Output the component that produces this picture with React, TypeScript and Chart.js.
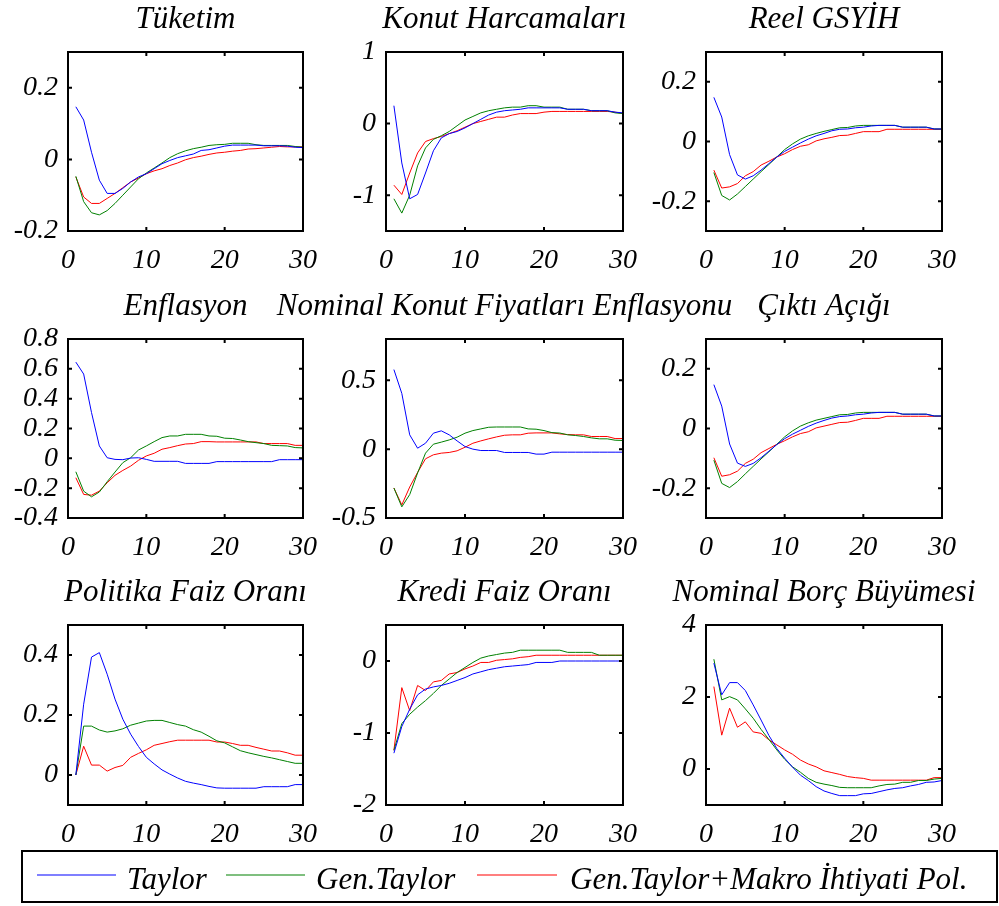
import React, { useEffect, useRef } from 'react';
import { Chart, registerables } from 'chart.js';

Chart.register(...registerables);

// Impulse-response periods
const PERIODS = [1, 2, 3, 4, 5, 6, 7, 8, 9, 10, 11, 12, 13, 14, 15, 16, 17, 18, 19, 20, 21, 22, 23, 24, 25, 26, 27, 28, 29, 30];
const X_TICKS = [0, 10, 20, 30];

const SERIES_NAMES = ['Taylor', 'Gen.Taylor', 'Gen.Taylor+Makro İhtiyati Pol.'];
const SERIES_COLORS = ['#0000ff', '#008000', '#ff0000'];

// Tüketim
const TUKETIM_TAYLOR = [0.147, 0.11, 0.02, -0.058, -0.095, -0.095, -0.081, -0.063, -0.049, -0.04, -0.026, -0.012, -0.003, 0.005, 0.01, 0.015, 0.025, 0.027, 0.032, 0.037, 0.04, 0.04, 0.04, 0.04, 0.038, 0.038, 0.038, 0.037, 0.034, 0.033];
const TUKETIM_GEN = [-0.047, -0.118, -0.149, -0.155, -0.143, -0.123, -0.1, -0.077, -0.054, -0.038, -0.024, -0.01, 0.005, 0.016, 0.024, 0.03, 0.034, 0.039, 0.041, 0.042, 0.045, 0.045, 0.045, 0.041, 0.039, 0.039, 0.039, 0.039, 0.036, 0.034];
const TUKETIM_MAKRO = [-0.049, -0.105, -0.123, -0.123, -0.109, -0.095, -0.079, -0.063, -0.052, -0.04, -0.032, -0.026, -0.017, -0.01, -0.001, 0.005, 0.009, 0.014, 0.018, 0.02, 0.023, 0.025, 0.029, 0.03, 0.032, 0.034, 0.036, 0.035, 0.035, 0.035];
const TUKETIM_YTICKS = [-0.2, 0, 0.2];

// Konut Harcamaları
const KONUT_TAYLOR = [0.25, -0.55, -1.05, -0.99, -0.69, -0.38, -0.2, -0.14, -0.11, -0.06, 0.0, 0.06, 0.12, 0.16, 0.18, 0.19, 0.2, 0.22, 0.22, 0.22, 0.22, 0.22, 0.2, 0.2, 0.2, 0.18, 0.18, 0.18, 0.16, 0.15];
const KONUT_GEN = [-1.05, -1.25, -1.0, -0.59, -0.34, -0.22, -0.17, -0.11, -0.03, 0.05, 0.1, 0.15, 0.18, 0.2, 0.22, 0.23, 0.23, 0.25, 0.25, 0.23, 0.23, 0.23, 0.2, 0.2, 0.2, 0.18, 0.18, 0.18, 0.15, 0.14];
const KONUT_MAKRO = [-0.86, -0.99, -0.69, -0.41, -0.25, -0.21, -0.18, -0.14, -0.1, -0.05, 0.0, 0.03, 0.06, 0.09, 0.09, 0.12, 0.14, 0.14, 0.14, 0.16, 0.17, 0.17, 0.17, 0.17, 0.17, 0.17, 0.17, 0.17, 0.16, 0.14];
const KONUT_YTICKS = [-1, 0, 1];

// Reel GSYİH
const REEL_TAYLOR = [0.148, 0.082, -0.044, -0.112, -0.126, -0.115, -0.096, -0.074, -0.052, -0.033, -0.019, -0.005, 0.008, 0.019, 0.027, 0.036, 0.041, 0.042, 0.046, 0.048, 0.052, 0.054, 0.054, 0.054, 0.048, 0.048, 0.048, 0.048, 0.042, 0.042];
const REEL_GEN = [-0.104, -0.181, -0.196, -0.176, -0.151, -0.126, -0.101, -0.077, -0.052, -0.027, -0.008, 0.008, 0.019, 0.027, 0.034, 0.04, 0.046, 0.047, 0.052, 0.054, 0.054, 0.054, 0.054, 0.054, 0.048, 0.048, 0.048, 0.048, 0.042, 0.042];
const REEL_MAKRO = [-0.096, -0.156, -0.152, -0.141, -0.115, -0.101, -0.079, -0.066, -0.052, -0.041, -0.027, -0.016, -0.011, 0.002, 0.009, 0.014, 0.02, 0.021, 0.027, 0.033, 0.033, 0.033, 0.041, 0.041, 0.041, 0.041, 0.041, 0.041, 0.041, 0.041];
const REEL_YTICKS = [-0.2, 0, 0.2];

// Enflasyon
const ENF_TAYLOR = [0.645, 0.565, 0.307, 0.083, 0.004, -0.007, -0.009, 0.002, 0.004, -0.007, -0.02, -0.02, -0.02, -0.02, -0.034, -0.034, -0.034, -0.034, -0.022, -0.022, -0.022, -0.022, -0.022, -0.022, -0.022, -0.022, -0.009, -0.009, -0.009, -0.009];
const ENF_GEN = [-0.09, -0.22, -0.258, -0.226, -0.157, -0.092, -0.029, 0.004, 0.056, 0.083, 0.112, 0.139, 0.15, 0.15, 0.161, 0.161, 0.161, 0.15, 0.148, 0.135, 0.133, 0.123, 0.112, 0.105, 0.099, 0.087, 0.085, 0.083, 0.072, 0.07];
const ENF_MAKRO = [-0.13, -0.242, -0.247, -0.22, -0.164, -0.114, -0.081, -0.052, -0.013, 0.016, 0.034, 0.061, 0.072, 0.085, 0.096, 0.099, 0.112, 0.112, 0.11, 0.11, 0.11, 0.11, 0.11, 0.11, 0.099, 0.099, 0.099, 0.099, 0.087, 0.087];
const ENF_YTICKS = [-0.4, -0.2, 0, 0.2, 0.4, 0.6, 0.8];

// Nominal Konut Fiyatları Enflasyonu
const NKF_TAYLOR = [0.578, 0.405, 0.104, 0.007, 0.043, 0.116, 0.133, 0.104, 0.06, 0.019, 0.0, -0.01, -0.01, -0.01, -0.024, -0.024, -0.024, -0.024, -0.036, -0.036, -0.022, -0.022, -0.022, -0.022, -0.022, -0.022, -0.022, -0.022, -0.022, -0.022];
const NKF_GEN = [-0.282, -0.419, -0.33, -0.173, -0.029, 0.036, 0.051, 0.067, 0.087, 0.116, 0.135, 0.147, 0.159, 0.161, 0.161, 0.161, 0.161, 0.147, 0.145, 0.135, 0.12, 0.117, 0.104, 0.099, 0.092, 0.082, 0.075, 0.075, 0.065, 0.063];
const NKF_MAKRO = [-0.282, -0.405, -0.275, -0.169, -0.07, -0.041, -0.029, -0.024, -0.012, 0.014, 0.043, 0.06, 0.075, 0.089, 0.101, 0.104, 0.104, 0.116, 0.118, 0.118, 0.118, 0.111, 0.106, 0.104, 0.104, 0.092, 0.092, 0.092, 0.077, 0.077];
const NKF_YTICKS = [-0.5, 0, 0.5];

// Çıktı Açığı
const CIKTI_TAYLOR = [0.147, 0.075, -0.052, -0.116, -0.127, -0.117, -0.098, -0.076, -0.054, -0.034, -0.019, -0.006, 0.007, 0.018, 0.027, 0.035, 0.04, 0.042, 0.046, 0.048, 0.052, 0.054, 0.054, 0.054, 0.048, 0.048, 0.048, 0.048, 0.042, 0.042];
const CIKTI_GEN = [-0.106, -0.184, -0.198, -0.178, -0.152, -0.127, -0.102, -0.078, -0.053, -0.028, -0.008, 0.008, 0.019, 0.028, 0.034, 0.04, 0.046, 0.047, 0.052, 0.054, 0.054, 0.054, 0.054, 0.054, 0.048, 0.048, 0.048, 0.048, 0.042, 0.042];
const CIKTI_MAKRO = [-0.098, -0.16, -0.155, -0.143, -0.117, -0.103, -0.081, -0.067, -0.053, -0.041, -0.028, -0.017, -0.011, 0.002, 0.008, 0.014, 0.02, 0.021, 0.027, 0.034, 0.034, 0.034, 0.041, 0.041, 0.041, 0.041, 0.041, 0.041, 0.041, 0.041];
const CIKTI_YTICKS = [-0.2, 0, 0.2];

// Politika Faiz Oranı
const POL_TAYLOR = [0.0, 0.236, 0.393, 0.408, 0.336, 0.253, 0.186, 0.136, 0.095, 0.059, 0.037, 0.017, 0.003, -0.01, -0.021, -0.027, -0.032, -0.038, -0.043, -0.044, -0.044, -0.044, -0.044, -0.044, -0.039, -0.039, -0.039, -0.039, -0.032, -0.032];
const POL_GEN = [0.0, 0.163, 0.163, 0.15, 0.143, 0.147, 0.154, 0.166, 0.173, 0.18, 0.182, 0.182, 0.175, 0.168, 0.163, 0.151, 0.143, 0.129, 0.114, 0.107, 0.094, 0.081, 0.074, 0.068, 0.062, 0.057, 0.051, 0.045, 0.039, 0.039];
const POL_MAKRO = [0.0, 0.096, 0.033, 0.033, 0.013, 0.025, 0.032, 0.059, 0.072, 0.084, 0.099, 0.105, 0.111, 0.116, 0.116, 0.116, 0.116, 0.116, 0.11, 0.11, 0.105, 0.099, 0.099, 0.092, 0.086, 0.08, 0.08, 0.074, 0.066, 0.066];
const POL_YTICKS = [0, 0.2, 0.4];

// Kredi Faiz Oranı
const KREDI_TAYLOR = [-1.28, -0.91, -0.67, -0.47, -0.39, -0.36, -0.34, -0.31, -0.27, -0.23, -0.18, -0.15, -0.12, -0.1, -0.08, -0.07, -0.06, -0.05, -0.02, -0.02, -0.02, 0.0, 0.0, 0.0, 0.0, 0.0, 0.0, 0.0, 0.0, 0.0];
const KREDI_GEN = [-1.24, -0.87, -0.74, -0.64, -0.55, -0.45, -0.34, -0.25, -0.16, -0.09, -0.02, 0.04, 0.07, 0.09, 0.11, 0.12, 0.15, 0.15, 0.15, 0.15, 0.15, 0.15, 0.12, 0.12, 0.12, 0.12, 0.08, 0.08, 0.08, 0.08];
const KREDI_MAKRO = [-1.24, -0.37, -0.69, -0.34, -0.41, -0.29, -0.27, -0.18, -0.16, -0.11, -0.07, -0.02, -0.02, 0.01, 0.02, 0.03, 0.05, 0.06, 0.08, 0.08, 0.08, 0.08, 0.08, 0.08, 0.08, 0.08, 0.08, 0.08, 0.08, 0.08];
const KREDI_YTICKS = [-2, -1, 0];

// Nominal Borç Büyümesi
const BORC_TAYLOR = [2.94, 2.06, 2.4, 2.4, 2.18, 1.78, 1.36, 0.93, 0.57, 0.3, 0.05, -0.17, -0.32, -0.49, -0.61, -0.68, -0.74, -0.74, -0.74, -0.69, -0.68, -0.63, -0.58, -0.54, -0.52, -0.47, -0.43, -0.37, -0.36, -0.32];
const BORC_GEN = [3.05, 1.92, 2.01, 1.92, 1.67, 1.41, 1.1, 0.82, 0.53, 0.27, 0.06, -0.09, -0.26, -0.37, -0.42, -0.46, -0.51, -0.52, -0.52, -0.52, -0.52, -0.47, -0.43, -0.42, -0.37, -0.37, -0.32, -0.32, -0.28, -0.26];
const BORC_MAKRO = [2.29, 0.94, 1.69, 1.16, 1.31, 1.03, 0.99, 0.81, 0.67, 0.53, 0.41, 0.25, 0.14, 0.06, -0.05, -0.1, -0.15, -0.21, -0.24, -0.26, -0.31, -0.31, -0.31, -0.31, -0.31, -0.31, -0.31, -0.31, -0.24, -0.24];
const BORC_YTICKS = [0, 2, 4];

// Page and panel geometry (pixels)
const PAGE_W = 999;
const PAGE_H = 906;
const COLS = [[68, 303], [386, 623], [706, 942]];
const ROWS = [[52, 231], [339, 518], [625, 805]];
const Y_AXIS_W = 60;
const X_AXIS_H = 45;

const SERIF = "'Liberation Serif', 'Times New Roman', Times, serif";
const TICK_FONT = { family: SERIF, size: 28, style: 'italic' as const, lineHeight: 1.2 };
const TITLE_SIZE = 31;
const LEGEND_SIZE = 31;

type Panel = {
  title: string;
  series: number[][];
  yMin: number;
  yMax: number;
  yTicks: number[];
  col: number;
  row: number;
};

const PANELS: Panel[] = [
  { title: 'Tüketim', series: [TUKETIM_TAYLOR, TUKETIM_GEN, TUKETIM_MAKRO], yMin: -0.2, yMax: 0.3, yTicks: TUKETIM_YTICKS, col: 0, row: 0 },
  { title: 'Konut Harcamaları', series: [KONUT_TAYLOR, KONUT_GEN, KONUT_MAKRO], yMin: -1.5, yMax: 1, yTicks: KONUT_YTICKS, col: 1, row: 0 },
  { title: 'Reel GSYİH', series: [REEL_TAYLOR, REEL_GEN, REEL_MAKRO], yMin: -0.3, yMax: 0.3, yTicks: REEL_YTICKS, col: 2, row: 0 },
  { title: 'Enflasyon', series: [ENF_TAYLOR, ENF_GEN, ENF_MAKRO], yMin: -0.4, yMax: 0.8, yTicks: ENF_YTICKS, col: 0, row: 1 },
  { title: 'Nominal Konut Fiyatları Enflasyonu', series: [NKF_TAYLOR, NKF_GEN, NKF_MAKRO], yMin: -0.5, yMax: 0.8, yTicks: NKF_YTICKS, col: 1, row: 1 },
  { title: 'Çıktı Açığı', series: [CIKTI_TAYLOR, CIKTI_GEN, CIKTI_MAKRO], yMin: -0.3, yMax: 0.3, yTicks: CIKTI_YTICKS, col: 2, row: 1 },
  { title: 'Politika Faiz Oranı', series: [POL_TAYLOR, POL_GEN, POL_MAKRO], yMin: -0.1, yMax: 0.5, yTicks: POL_YTICKS, col: 0, row: 2 },
  { title: 'Kredi Faiz Oranı', series: [KREDI_TAYLOR, KREDI_GEN, KREDI_MAKRO], yMin: -2, yMax: 0.5, yTicks: KREDI_YTICKS, col: 1, row: 2 },
  { title: 'Nominal Borç Büyümesi', series: [BORC_TAYLOR, BORC_GEN, BORC_MAKRO], yMin: -1, yMax: 4, yTicks: BORC_YTICKS, col: 2, row: 2 },
];

// Boxed axes with inward tick marks on all four sides
const framePlugin = {
  id: 'frameTicks',
  afterDatasetsDraw(chart: any) {
    const { ctx, chartArea: a, scales } = chart;
    ctx.save();
    ctx.strokeStyle = '#000';
    ctx.lineWidth = 2;
    ctx.strokeRect(a.left, a.top, a.right - a.left, a.bottom - a.top);
    const len = 4;
    ctx.beginPath();
    scales.x.ticks.forEach((t: any) => {
      const px = scales.x.getPixelForValue(t.value);
      ctx.moveTo(px, a.bottom);
      ctx.lineTo(px, a.bottom - len);
      ctx.moveTo(px, a.top);
      ctx.lineTo(px, a.top + len);
    });
    scales.y.ticks.forEach((t: any) => {
      const py = scales.y.getPixelForValue(t.value);
      ctx.moveTo(a.left, py);
      ctx.lineTo(a.left + len, py);
      ctx.moveTo(a.right, py);
      ctx.lineTo(a.right - len, py);
    });
    ctx.stroke();
    ctx.restore();
  },
};

// Panel heading centred over the plot box
const panelTitlePlugin = {
  id: 'panelTitle',
  afterDraw(chart: any, _args: any, opts: any) {
    if (!opts || !opts.text) return;
    const { ctx, chartArea: a } = chart;
    ctx.save();
    ctx.font = `italic ${TITLE_SIZE}px ${SERIF}`;
    ctx.fillStyle = '#000';
    ctx.textAlign = 'center';
    ctx.textBaseline = 'alphabetic';
    ctx.fillText(opts.text, (a.left + a.right) / 2, a.top - 24);
    ctx.restore();
  },
};

// Shared legend box along the bottom of the figure
const legendBoxPlugin = {
  id: 'legendBox',
  afterDraw(chart: any, _args: any, opts: any) {
    if (!opts || !opts.show) return;
    const { ctx } = chart;
    const box = { left: 22, top: 851, right: 997, bottom: 902 };
    ctx.save();
    ctx.fillStyle = '#fff';
    ctx.fillRect(box.left, box.top, box.right - box.left, box.bottom - box.top);
    ctx.strokeStyle = '#000';
    ctx.lineWidth = 2;
    ctx.strokeRect(box.left, box.top, box.right - box.left, box.bottom - box.top);
    const cy = 875;
    const entries = [
      { x0: 37, x1: 116, tx: 127 },
      { x0: 226, x1: 305, tx: 316 },
      { x0: 477, x1: 557, tx: 570 },
    ];
    ctx.font = `italic ${LEGEND_SIZE}px ${SERIF}`;
    ctx.textBaseline = 'alphabetic';
    ctx.textAlign = 'left';
    chart.data.datasets.forEach((ds: any, i: number) => {
      const e = entries[i];
      ctx.save();
      ctx.strokeStyle = SERIES_COLORS[i];
      ctx.lineWidth = 1.2;
      ctx.beginPath();
      ctx.moveTo(e.x0, cy);
      ctx.lineTo(e.x1, cy);
      ctx.stroke();
      ctx.restore();
      ctx.fillStyle = '#000';
      ctx.fillText(ds.label, e.tx, 889);
    });
    ctx.restore();
  },
};

function PanelChart({ panel, withLegend }: { panel: Panel; withLegend: boolean }) {
  const ref = useRef<HTMLCanvasElement | null>(null);
  useEffect(() => {
    const canvas = ref.current;
    if (!canvas) return;
    const [bl, br] = COLS[panel.col];
    const [bt, bb] = ROWS[panel.row];
    const chart = new Chart(canvas, {
      type: 'line',
      data: {
        datasets: panel.series.map((vals, i) => ({
          label: SERIES_NAMES[i],
          data: PERIODS.map((p, k) => ({ x: p, y: vals[k] })),
          borderColor: SERIES_COLORS[i],
          backgroundColor: SERIES_COLORS[i],
          borderWidth: 1,
          pointRadius: 0,
          tension: 0,
          fill: false,
        })),
      },
      options: {
        responsive: false,
        animation: false,
        devicePixelRatio: 1,
        events: [],
        layout: {
          padding: {
            left: bl - Y_AXIS_W,
            top: bt,
            right: PAGE_W - br,
            bottom: PAGE_H - bb - X_AXIS_H,
          },
        },
        plugins: {
          legend: { display: false },
          tooltip: { enabled: false },
          title: { display: false },
          panelTitle: { text: panel.title },
          legendBox: { show: withLegend },
        } as any,
        scales: {
          x: {
            type: 'linear',
            min: 0,
            max: 30,
            grid: { display: false, drawTicks: false },
            border: { display: false },
            afterBuildTicks: (s: any) => {
              s.ticks = X_TICKS.map((v) => ({ value: v }));
            },
            afterFit: (s: any) => {
              s.height = X_AXIS_H;
            },
            ticks: {
              autoSkip: false,
              maxRotation: 0,
              padding: 13,
              color: '#000',
              font: TICK_FONT,
              callback: (v: any) => String(v),
            },
          },
          y: {
            type: 'linear',
            min: panel.yMin,
            max: panel.yMax,
            grid: { display: false, drawTicks: false },
            border: { display: false },
            afterBuildTicks: (s: any) => {
              s.ticks = panel.yTicks.map((v) => ({ value: v }));
            },
            afterFit: (s: any) => {
              s.width = Y_AXIS_W;
            },
            ticks: {
              autoSkip: false,
              padding: 10,
              color: '#000',
              font: TICK_FONT,
              callback: (v: any) => String(v),
            },
          },
        },
      },
      plugins: [framePlugin, panelTitlePlugin, legendBoxPlugin],
    } as any);
    return () => chart.destroy();
  }, [panel, withLegend]);
  return (
    <canvas
      ref={ref}
      width={PAGE_W}
      height={PAGE_H}
      style={{ position: 'absolute', left: 0, top: 0, width: PAGE_W, height: PAGE_H }}
    />
  );
}

export default function App() {
  return (
    <div
      style={{
        position: 'absolute',
        left: 0,
        top: 0,
        width: PAGE_W,
        height: PAGE_H,
        background: '#fff',
        overflow: 'hidden',
      }}
    >
      {PANELS.map((p, i) => (
        <PanelChart key={p.title} panel={p} withLegend={i === PANELS.length - 1} />
      ))}
    </div>
  );
}
